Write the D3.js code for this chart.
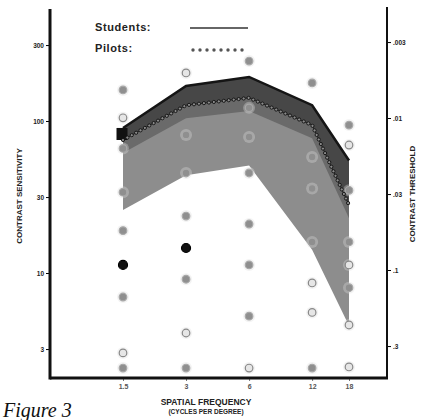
<!DOCTYPE html>
<html>
<head>
<meta charset="utf-8">
<script src="https://cdn.jsdelivr.net/npm/d3@7"></script>
<style>
  body { margin: 0; background: #fff; }
  svg { display: block; }
  text { font-family: "Liberation Sans", Arial, sans-serif; font-weight: bold; fill: #222; }
</style>
</head>
<body>
<div id="chart"></div>
<script>
// spatial frequencies (cycles per degree)
var freqs = [1.5, 3, 6, 12, 18];
var freqLabels = ["1.5", "3", "6", "12", "18"];

// contrast sensitivity curves
var students = [90, 170, 195, 127, 55];     // upper solid line
var pilots = [75, 127, 142, 94, 28];        // dotted line
var lowerBound = [26, 44, 51, 14.2, 4.5];   // bottom of the shaded range

// axis ticks
var sensTicks = [316, 100, 31.6, 10, 3.16];
var sensLabels = ["300", "100", "30", "10", "3"];
var threshLabels = [".003", ".01", ".03", ".1", ".3"];

// test contrast levels shown at each frequency: [freq, sensitivity, kind]
var testPoints = [
    [1.5, 160, "g"], [1.5, 105, "o"], [1.5, 66, "g"], [1.5, 34, "g"], [1.5, 19, "g"],
    [1.5, 11.3, "b"], [1.5, 6.95, "g"], [1.5, 2.98, "o"], [1.5, 2.37, "g"],
    [3, 207, "o"], [3, 81, "g"], [3, 45.5, "g"], [3, 23.7, "g"], [3, 14.6, "b"],
    [3, 9.1, "g"], [3, 4.03, "o"], [3, 2.37, "g"],
    [6, 248, "g"], [6, 122, "g"], [6, 78.5, "g"], [6, 45.5, "g"], [6, 21, "g"],
    [6, 11.3, "g"], [6, 5.2, "g"], [6, 2.37, "o"],
    [12, 178, "g"], [12, 58, "g"], [12, 36, "g"], [12, 16, "g"], [12, 8.6, "o"],
    [12, 5.5, "o"], [12, 2.37, "g"],
    [18, 94, "g"], [18, 69.5, "o"], [18, 35, "g"], [18, 16, "g"], [18, 11.3, "o"],
    [18, 8.0, "g"], [18, 4.55, "o"], [18, 2.41, "o"]
];

var width = 426, height = 420;
var axisLeft = 50, axisRight = 387, axisTop = 9, axisBottom = 378;

var svg = d3.select("#chart").append("svg")
    .attr("width", width)
    .attr("height", height);

var x = d3.scaleLog().domain([1.5, 18]).range([123, 349]);
// half-decade ticks sit evenly, one decade = 152px
var y = d3.scaleLog().domain([10, 100]).range([273, 121]);

var rows = freqs.map(function (f, i) {
    return { f: f, s: students[i], p: pilots[i], lo: lowerBound[i] };
});

// shaded range
var band = d3.area()
    .x(function (d) { return x(d.f); })
    .y0(function (d) { return y(d.lo); })
    .y1(function (d) { return y(d.s); });

svg.append("path")
    .datum(rows)
    .attr("d", band)
    .attr("fill", "#8d8d8d");

// darker strip between students and pilots
var strip = d3.area()
    .x(function (d) { return x(d.f); })
    .y0(function (d) { return y(d.p * 0.82); })
    .y1(function (d) { return y(d.s); });

svg.append("path")
    .datum(rows)
    .attr("d", strip)
    .attr("fill", "#6a6a6a");

var strip2 = d3.area()
    .x(function (d) { return x(d.f); })
    .y0(function (d) { return y(d.p); })
    .y1(function (d) { return y(d.s); });

svg.append("path")
    .datum(rows)
    .attr("d", strip2)
    .attr("fill", "#474747");

// black cap at the low-frequency end
svg.append("line")
    .attr("x1", x(1.5) - 1).attr("x2", x(1.5) - 1)
    .attr("y1", y(students[0])).attr("y2", y(pilots[0]))
    .attr("stroke", "#111")
    .attr("stroke-width", 11);

// test points
var pts = svg.append("g");
pts.selectAll("circle.halo")
    .data(testPoints)
    .enter().append("circle")
    .attr("cx", function (d) { return x(d[0]); })
    .attr("cy", function (d) { return y(d[1]); })
    .attr("r", 6)
    .attr("fill", "#ddd")
    .attr("opacity", function (d) { return d[2] === "b" ? 0 : 0.35; });

pts.selectAll("circle.pt")
    .data(testPoints)
    .enter().append("circle")
    .attr("cx", function (d) { return x(d[0]); })
    .attr("cy", function (d) { return y(d[1]); })
    .attr("r", function (d) { return d[2] === "b" ? 4.5 : 3.8; })
    .attr("fill", function (d) {
        if (d[2] === "b") return "#111";
        if (d[2] === "o") return "#e6e6e6";
        return "#8f8f8f";
    })
    .attr("stroke", function (d) {
        if (d[2] === "b") return "#000";
        if (d[2] === "o") return "#888";
        return "#a8a8a8";
    })
    .attr("stroke-width", 1.2);

// students curve
var line = d3.line()
    .x(function (d) { return x(d.f); })
    .y(function (d) { return y(d.v); });

svg.append("path")
    .datum(freqs.map(function (f, i) { return { f: f, v: students[i] }; }))
    .attr("d", line)
    .attr("fill", "none")
    .attr("stroke", "#151515")
    .attr("stroke-width", 2.5);

// pilots curve, drawn as a chain of small circles
var pilotPath = svg.append("path")
    .datum(freqs.map(function (f, i) { return { f: f, v: pilots[i] }; }))
    .attr("d", line)
    .attr("fill", "none")
    .attr("stroke", "#222")
    .attr("stroke-width", 1);

var node = pilotPath.node();
var total = node.getTotalLength();
var beads = d3.range(0, total, 5).map(function (l) { return node.getPointAtLength(l); });
svg.append("g").selectAll("circle")
    .data(beads)
    .enter().append("circle")
    .attr("cx", function (d) { return d.x; })
    .attr("cy", function (d) { return d.y; })
    .attr("r", 1.6)
    .attr("fill", "#8a8a8a")
    .attr("stroke", "#111")
    .attr("stroke-width", 0.9);

// axes
var leftAxis = d3.axisLeft(y)
    .tickValues(sensTicks)
    .tickFormat(function (d, i) { return sensLabels[i]; })
    .tickSize(4)
    .tickPadding(2);

var gl = svg.append("g")
    .attr("transform", "translate(" + axisLeft + ",0)")
    .call(leftAxis);
gl.select(".domain").remove();
gl.selectAll("text").attr("font-size", 6.5);

var rightAxis = d3.axisRight(y)
    .tickValues(sensTicks)
    .tickFormat(function (d, i) { return threshLabels[i]; })
    .tickSize(4)
    .tickPadding(2);

var gr = svg.append("g")
    .attr("transform", "translate(" + axisRight + ",-3)")
    .call(rightAxis);
gr.select(".domain").remove();
gr.selectAll("text").attr("font-size", 6.5);

var bottomAxis = d3.axisBottom(x)
    .tickValues(freqs)
    .tickFormat(function (d, i) { return freqLabels[i]; })
    .tickSize(3)
    .tickPadding(3);

var gb = svg.append("g")
    .attr("transform", "translate(0," + axisBottom + ")")
    .call(bottomAxis);
gb.select(".domain").remove();
gb.selectAll("text").attr("font-size", 7).style("fill", "#555");
gb.selectAll("line").attr("stroke", "#777");

// axis frame lines
svg.append("line")
    .attr("x1", axisLeft).attr("x2", axisLeft)
    .attr("y1", axisTop).attr("y2", axisBottom + 1.5)
    .attr("stroke", "#111").attr("stroke-width", 3);
svg.append("line")
    .attr("x1", axisRight).attr("x2", axisRight)
    .attr("y1", axisTop - 2).attr("y2", axisBottom + 1)
    .attr("stroke", "#111").attr("stroke-width", 2);
svg.append("line")
    .attr("x1", axisLeft).attr("x2", axisRight + 1)
    .attr("y1", axisBottom).attr("y2", axisBottom)
    .attr("stroke", "#111").attr("stroke-width", 3);

// axis titles
svg.append("text")
    .attr("transform", "translate(22,196) rotate(-90)")
    .attr("text-anchor", "middle")
    .attr("font-size", 8)
    .text("CONTRAST SENSITIVITY");

svg.append("text")
    .attr("transform", "translate(415,194) rotate(-90)")
    .attr("text-anchor", "middle")
    .attr("font-size", 8)
    .text("CONTRAST THRESHOLD");

svg.append("text")
    .attr("x", 206).attr("y", 405)
    .attr("text-anchor", "middle")
    .attr("font-size", 8.5)
    .text("SPATIAL FREQUENCY");

svg.append("text")
    .attr("x", 206).attr("y", 414)
    .attr("text-anchor", "middle")
    .attr("font-size", 6.5)
    .text("(CYCLES PER DEGREE)");

// legend
svg.append("text")
    .attr("x", 95).attr("y", 31)
    .attr("font-size", 11)
    .attr("letter-spacing", 0.6)
    .text("Students:");
svg.append("line")
    .attr("x1", 190).attr("x2", 248)
    .attr("y1", 28).attr("y2", 28)
    .attr("stroke", "#333").attr("stroke-width", 1.5);

svg.append("text")
    .attr("x", 95).attr("y", 52)
    .attr("font-size", 11)
    .attr("letter-spacing", 0.6)
    .text("Pilots:");
svg.append("g").selectAll("circle")
    .data(d3.range(8))
    .enter().append("circle")
    .attr("cx", function (d) { return 193 + d * 7; })
    .attr("cy", 50)
    .attr("r", 1.7)
    .attr("fill", "#555");

// caption at the bottom edge (serif italic, set through style so the css rule does not win)
svg.append("text")
    .attr("x", 3).attr("y", 417)
    .attr("font-size", 20)
    .style("font-family", "'Liberation Serif', 'DejaVu Serif', serif")
    .style("font-style", "italic")
    .style("font-weight", "normal")
    .style("fill", "#111")
    .text("Figure 3");
</script>
</body>
</html>
